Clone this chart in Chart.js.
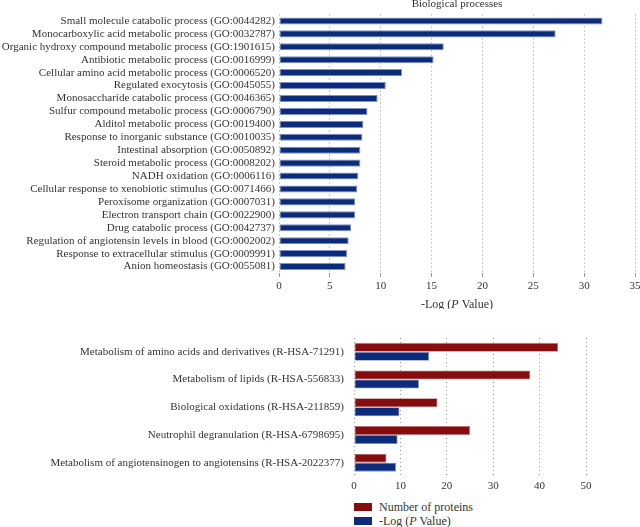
<!DOCTYPE html>
<html>
<head>
<meta charset="utf-8">
<script src="https://cdn.jsdelivr.net/npm/chart.js@4.4.0/dist/chart.umd.min.js"></script>
<style>
    body { margin: 0; background: #fff; width: 640px; height: 527px; overflow: hidden; position: relative; font-family: "Liberation Serif", serif; }
    #bp-chart { position: absolute; left: 0; top: -2px; }
    #path-chart { position: absolute; left: 0; top: 320px; }
    #legend { position: absolute; left: 354px; top: 500px; font-size: 12px; color: #333; line-height: 14px; }
    #legend .row { display: flex; align-items: center; height: 14px; }
    #legend .box { width: 18px; height: 8px; margin-right: 7px; }
</style>
</head>
<body>
<canvas id="bp-chart" width="640" height="311"></canvas>
<canvas id="path-chart" width="640" height="177"></canvas>
<div id="legend"></div>
<script>
// Biological processes (top chart)
const bpLabels = [
    'Small molecule catabolic process (GO:0044282)',
    'Monocarboxylic acid metabolic process (GO:0032787)',
    'Organic hydroxy compound metabolic process (GO:1901615)',
    'Antibiotic metabolic process (GO:0016999)',
    'Cellular amino acid metabolic process (GO:0006520)',
    'Regulated exocytosis (GO:0045055)',
    'Monosaccharide catabolic process (GO:0046365)',
    'Sulfur compound metabolic process (GO:0006790)',
    'Alditol metabolic process (GO:0019400)',
    'Response to inorganic substance (GO:0010035)',
    'Intestinal absorption (GO:0050892)',
    'Steroid metabolic process (GO:0008202)',
    'NADH oxidation (GO:0006116)',
    'Cellular response to xenobiotic stimulus (GO:0071466)',
    'Peroxisome organization (GO:0007031)',
    'Electron transport chain (GO:0022900)',
    'Drug catabolic process (GO:0042737)',
    'Regulation of angiotensin levels in blood (GO:0002002)',
    'Response to extracellular stimulus (GO:0009991)',
    'Anion homeostasis (GO:0055081)'
];
const bpValues = [31.8, 27.2, 16.2, 15.2, 12.1, 10.5, 9.7, 8.7, 8.3, 8.2, 8.0, 8.0, 7.8, 7.7, 7.5, 7.5, 7.1, 6.85, 6.7, 6.55];
const bpTicks = [0, 5, 10, 15, 20, 25, 30, 35];

// Reactome pathways (bottom chart)
const pathLabels = [
    'Metabolism of amino acids and derivatives (R-HSA-71291)',
    'Metabolism of lipids (R-HSA-556833)',
    'Biological oxidations (R-HSA-211859)',
    'Neutrophil degranulation (R-HSA-6798695)',
    'Metabolism of angiotensinogen to angiotensins (R-HSA-2022377)'
];
const pathProteins = [44, 38, 18, 25, 7];
const pathLogP = [16.2, 14.0, 9.8, 9.4, 9.05];
const pathTicks = [0, 10, 20, 30, 40, 50];

const NAVY = '#0c2b7a';
const RED = '#860c0e';
const FONT = '"Liberation Serif", serif';
const TEXT = '#333';

// Draws an axis title with an italic part, under the x scale
const richAxisTitle = {
    id: 'richAxisTitle',
    afterDraw(chart, args, opts) {
        if (!opts.parts) return;
        const x = chart.scales.x;
        const ctx = chart.ctx;
        ctx.save();
        ctx.fillStyle = TEXT;
        ctx.textBaseline = 'middle';
        ctx.textAlign = 'left';
        const fonts = opts.parts.map(p => (p.italic ? 'italic ' : '') + opts.size + 'px ' + FONT);
        let total = 0;
        opts.parts.forEach((p, i) => { ctx.font = fonts[i]; total += ctx.measureText(p.text).width; });
        let cx = (x.left + x.right) / 2 - total / 2;
        const cy = x.bottom - opts.offset;
        opts.parts.forEach((p, i) => {
            ctx.font = fonts[i];
            ctx.fillText(p.text, cx, cy);
            cx += ctx.measureText(p.text).width;
        });
        ctx.restore();
    }
};

function xScale(ticks, tickLen, drawTicks, height) {
    return {
        type: 'linear',
        min: ticks[0],
        max: ticks[ticks.length - 1],
        afterBuildTicks: scale => { scale.ticks = ticks.map(v => ({ value: v })); },
        grid: { color: '#999', lineWidth: 1, drawTicks: drawTicks, tickLength: tickLen },
        border: { display: false, dash: [1, 3] },
        ticks: { color: TEXT, font: { family: FONT, size: 11 }, padding: 3, maxRotation: 0 },
        afterFit: scale => { scale.paddingLeft = 0; scale.paddingRight = 0; scale.height = height; }
    };
}

function yScale(width, pad) {
    return {
        type: 'category',
        grid: { display: false, drawTicks: false },
        border: { display: false },
        ticks: { color: TEXT, font: { family: FONT, size: 11 }, padding: pad, autoSkip: false },
        afterFit: scale => { scale.width = width; }
    };
}

const bpChart = new Chart(document.getElementById('bp-chart'), {
    type: 'bar',
    data: {
        labels: bpLabels,
        datasets: [{
            label: '-Log (P Value)',
            data: bpValues,
            backgroundColor: NAVY,
            borderColor: '#7f93c8',
            borderWidth: 1,
            borderSkipped: false,
            categoryPercentage: 1,
            barPercentage: 0.55
        }]
    },
    options: {
        responsive: false,
        animation: false,
        indexAxis: 'y',
        layout: { padding: { left: 0, right: 5, top: 0, bottom: 0 } },
        scales: {
            x: xScale(bpTicks, 4, true, 36),
            y: yScale(279, 4)
        },
        plugins: {
            legend: { display: false },
            tooltip: { enabled: false },
            title: {
                display: true,
                text: 'Biological processes',
                fullSize: false,
                color: TEXT,
                font: { family: FONT, size: 11, weight: 'normal' },
                padding: { top: 0, bottom: 3.3 }
            },
            richAxisTitle: {
                size: 12,
                offset: 4,
                parts: [{ text: '-Log (' }, { text: 'P', italic: true }, { text: ' Value)' }]
            }
        }
    },
    plugins: [richAxisTitle]
});

const pathChart = new Chart(document.getElementById('path-chart'), {
    type: 'bar',
    data: {
        labels: pathLabels,
        datasets: [
            {
                label: 'Number of proteins',
                data: pathProteins,
                backgroundColor: RED,
                borderColor: '#c07a7a',
                borderWidth: 0.8,
                borderSkipped: false,
                categoryPercentage: 0.65,
                barPercentage: 1
            },
            {
                label: '-Log (P Value)',
                data: pathLogP,
                backgroundColor: NAVY,
                borderColor: '#7f93c8',
                borderWidth: 0.8,
                borderSkipped: false,
                categoryPercentage: 0.65,
                barPercentage: 1
            }
        ]
    },
    options: {
        responsive: false,
        animation: false,
        indexAxis: 'y',
        layout: { padding: { left: 0, right: 54, top: 18, bottom: 0 } },
        scales: {
            x: xScale(pathTicks, 0, false, 20.5),
            y: yScale(354, 10)
        },
        plugins: {
            legend: { display: false },
            tooltip: { enabled: false }
        }
    }
});

// HTML legend (keeps the italic P)
const legendEl = document.getElementById('legend');
pathChart.data.datasets.forEach(ds => {
    const row = document.createElement('div');
    row.className = 'row';
    const box = document.createElement('span');
    box.className = 'box';
    box.style.background = ds.backgroundColor;
    const label = document.createElement('span');
    label.innerHTML = ds.label.replace('(P ', '(<i>P</i> ');
    row.appendChild(box);
    row.appendChild(label);
    legendEl.appendChild(row);
});
</script>
</body>
</html>
